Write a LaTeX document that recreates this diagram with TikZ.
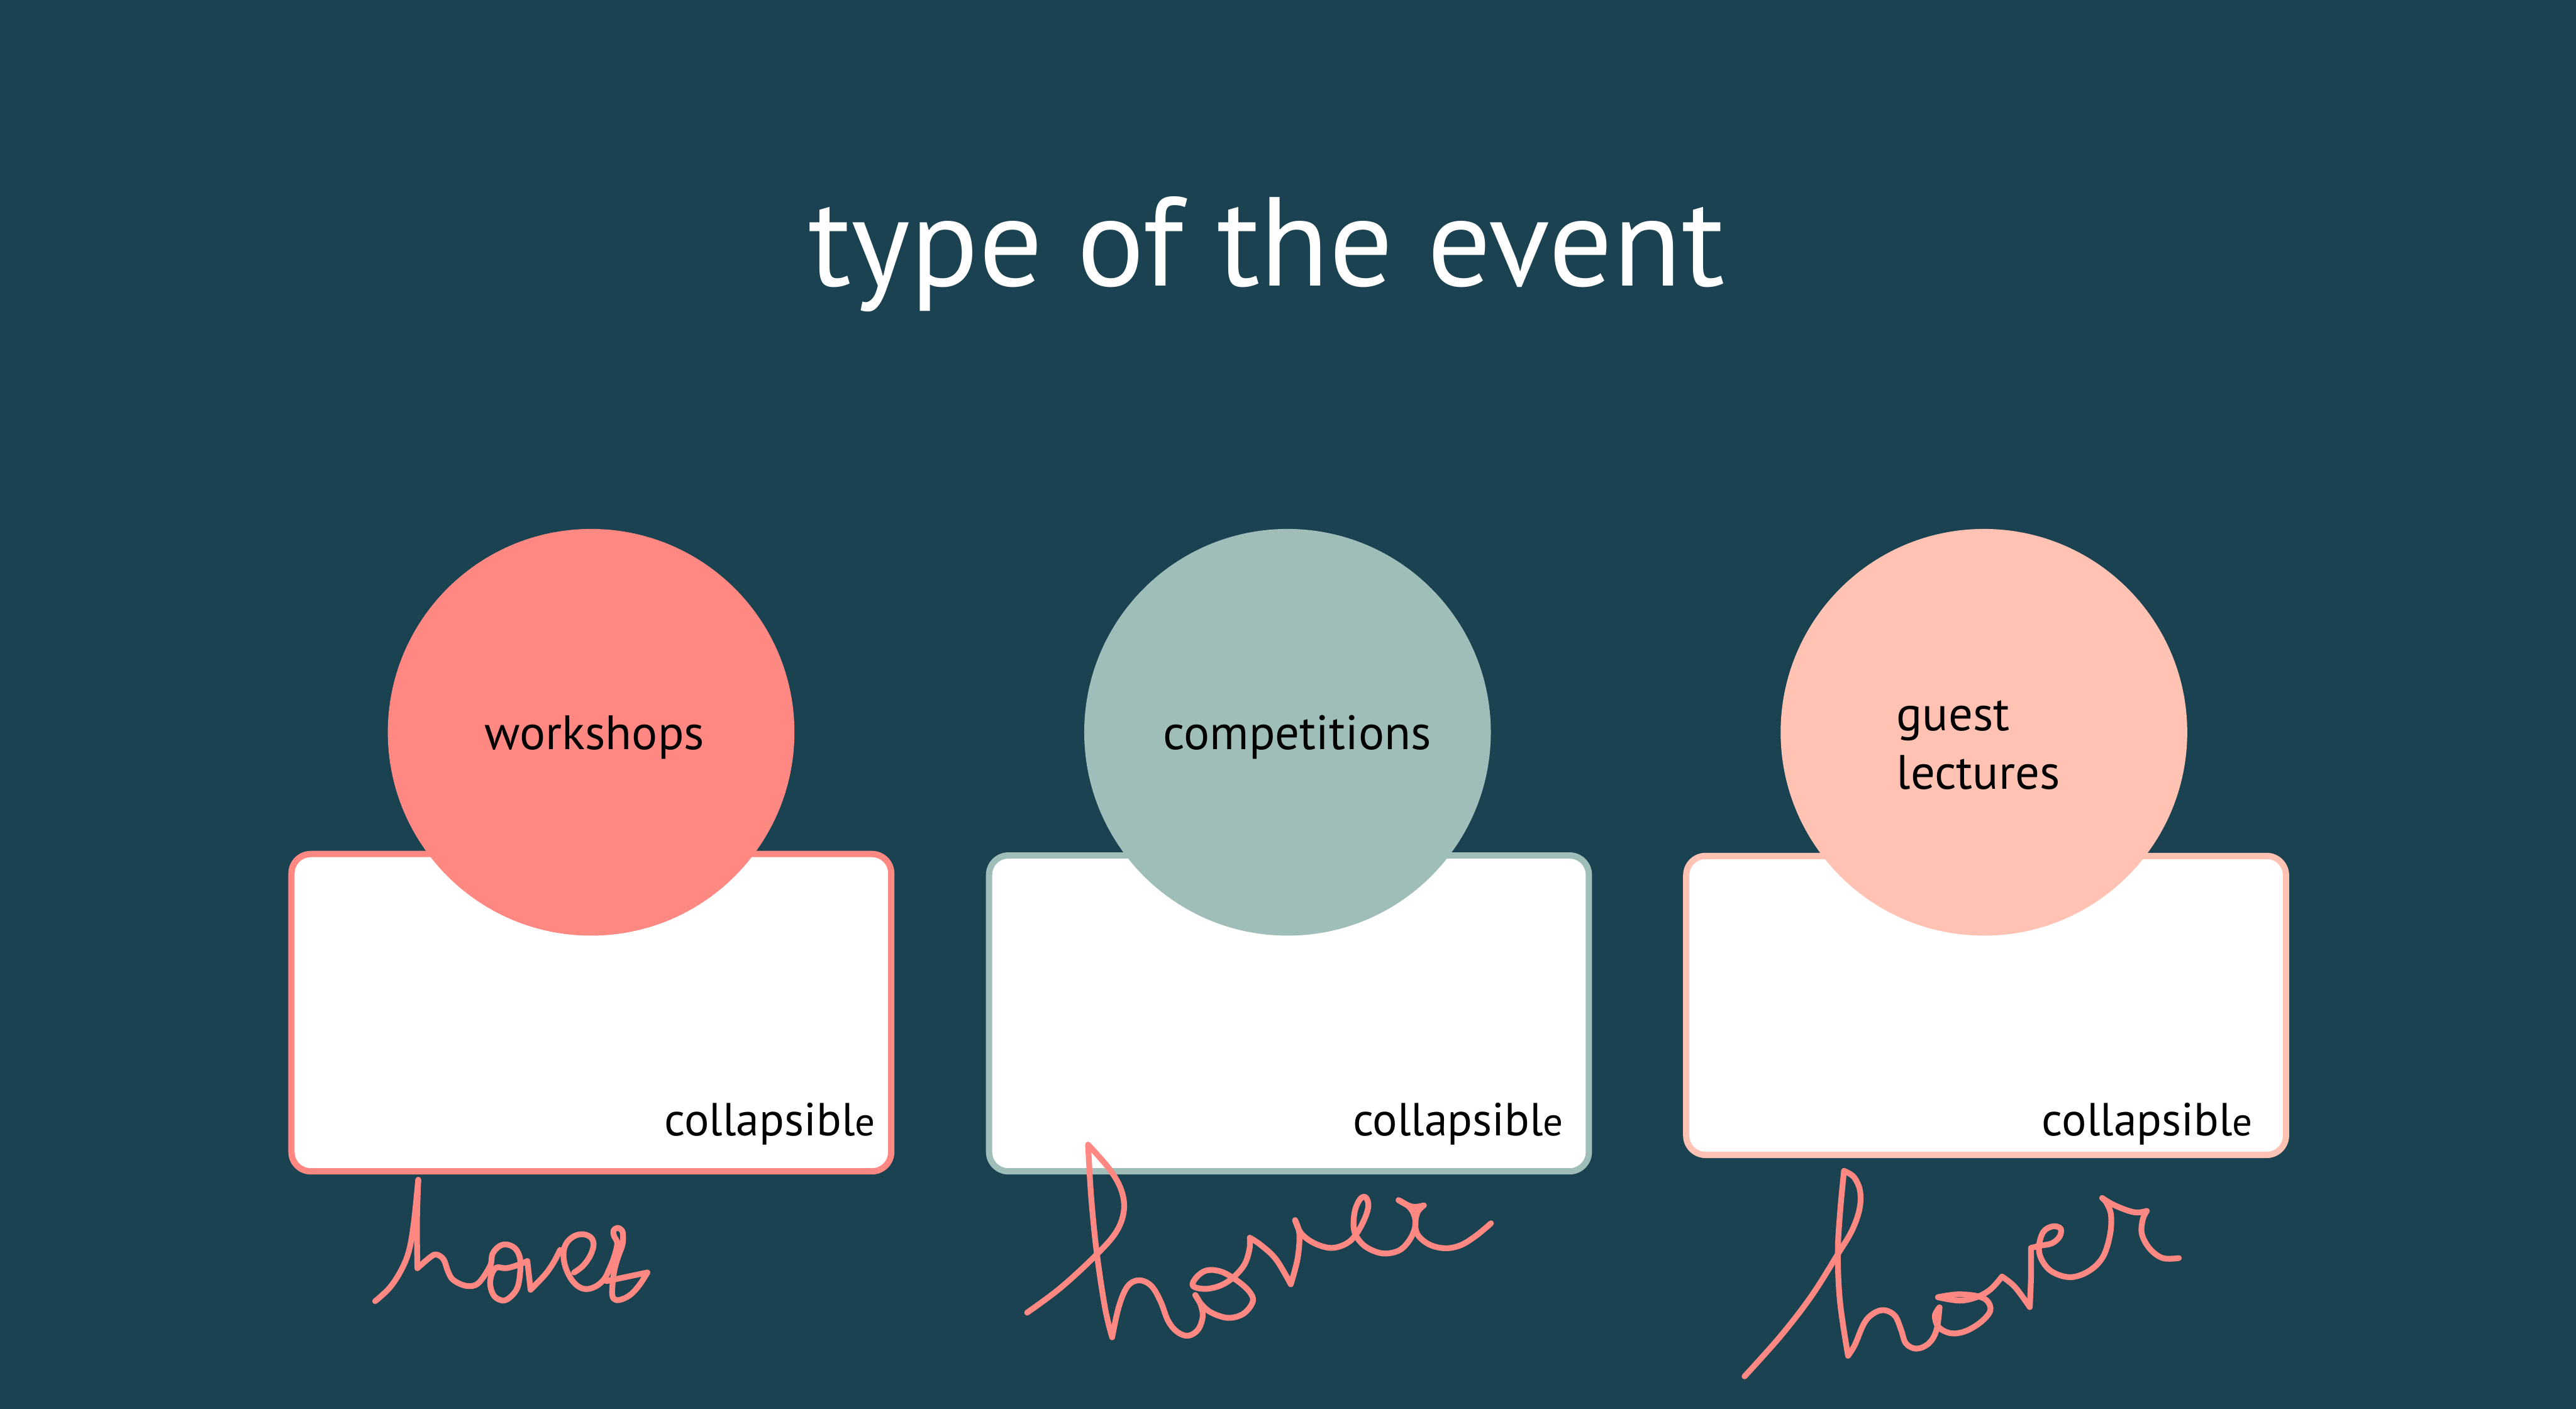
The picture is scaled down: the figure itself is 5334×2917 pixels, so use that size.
\documentclass[tikz,border=0pt]{standalone}
\usepackage{fontspec}
\setmainfont{PT Sans}
\definecolor{bg}{HTML}{1B4250}
\definecolor{salmon}{HTML}{FF8882}
\definecolor{sage}{HTML}{9FBEB9}
\definecolor{peach}{HTML}{FFC2B3}
\begin{document}
\begin{tikzpicture}[x=0.1pt,y=-0.1pt,
  bubble/.style={circle, minimum size=84.2pt, inner sep=0pt},
  card/.style={rectangle, rounded corners=4pt, fill=white, line width=1.3pt, minimum width=124.2pt, inner sep=0pt},
  lbl/.style={text=black, inner sep=0pt, font=\fontsize{10}{12}\selectfont},
  collap/.style={anchor=base east, text=black, inner sep=0pt, font=\fontsize{9.6}{12}\selectfont},
  scribble/.style={draw=salmon, line width=1.2pt, line cap=round, line join=round},
  sm/.style={smooth, tension=0.6},
]
\fill[bg] (0,0) rectangle (5334,2917);
\useasboundingbox (0,0) rectangle (5334,2917);

\node[anchor=base, text=white, inner sep=0pt, font=\fontsize{26.2}{30}\selectfont] (title) at (2623,592) {type of the event};

\node[card, draw=salmon, minimum height=65.7pt] (box1) at (1224.5,2096.5) {};
\node[card, draw=sage, minimum height=65.4pt] (box2) at (2669,2098) {};
\node[card, draw=peach, minimum height=61.9pt] (box3) at (4112.5,2081.5) {};

\node[bubble, fill=salmon] (c1) at (1224,1516) {};
\node[bubble, fill=sage] (c2) at (2666,1516) {};
\node[bubble, fill=peach] (c3) at (4108,1516) {};

\node[lbl, anchor=base] (l1) at (1231,1551) {workshops};
\node[lbl, anchor=base] (l2) at (2686,1551) {competitions};
\node[lbl, anchor=base west] (l3a) at (3925,1512) {guest};
\node[lbl, anchor=base west] (l3b) at (3925,1634) {lectures};

\node[collap] (k1) at (1814,2351) {collapsibl{\fontsize{8.2}{10}\selectfont e}};
\node[collap] (k2) at (3239,2351) {collapsibl{\fontsize{8.2}{10}\selectfont e}};
\node[collap] (k3) at (4666,2351) {collapsibl{\fontsize{8.2}{10}\selectfont e}};

% scribble 1
\begin{scope}[shift={(700,2217)}, scale=0.4464]
\draw[scribble] plot[sm] coordinates {(172,1068) (240,1005) (295,920) (330,830) (352,700) (372,505)};
\draw[scribble] plot[sm] coordinates {(372,505) (366,700) (368,915)};
\draw[scribble] plot[sm] coordinates {(368,915) (430,862) (458,852) (490,875) (510,930) (535,970) (595,997) (650,985) (705,905) (716,850) (745,815) (780,805) (820,822) (843,865) (845,930) (832,1005) (800,1048) (765,1065) (725,1045) (706,995) (712,945) (735,912) (780,915) (835,900) (878,882)};
\draw[scribble] (878,882) -- (893,1015);
\draw[scribble] plot[sm] coordinates {(893,1015) (960,945) (1000,888) (1030,830)};
\draw[scribble] plot[sm] coordinates {(1095,935) (1135,905) (1168,860) (1185,810) (1175,775) (1140,758) (1098,765) (1062,795) (1046,840) (1052,900) (1078,960) (1112,998) (1152,1012) (1198,998) (1235,965) (1258,920) (1280,865) (1295,800) (1280,765) (1278,740) (1297,728) (1318,742) (1322,775) (1318,810) (1300,860) (1285,910) (1275,970) (1272,1040) (1288,1062) (1320,1058) (1360,1035) (1400,990) (1435,935)};
\draw[scribble] (1435,935) -- (1245,975);
\end{scope}

% scribble 2
\begin{scope}[shift={(2100,1917)}, scale=0.6378]
\draw[scribble] plot[sm] coordinates {(42,1255) (150,1175) (262,1072) (330,995) (356,925) (348,858) (310,790) (240,710)};
\draw[scribble] plot[sm] coordinates {(240,710) (250,880) (268,1060) (295,1240) (318,1335)};
\draw[scribble] plot[sm] coordinates {(318,1335) (340,1235) (368,1170) (405,1150) (445,1168) (475,1218) (500,1282) (530,1318) (565,1330) (597,1310) (612,1268) (605,1228) (588,1198)};
\draw[scribble] plot[sm] coordinates {(588,1198) (608,1228) (640,1255) (695,1272) (745,1258) (775,1218) (762,1185) (722,1150) (672,1122) (625,1118) (592,1140) (580,1168) (620,1178) (670,1167) (712,1140) (748,1098) (764,1048) (765,1012)};
\draw[scribble] plot[sm] coordinates {(765,1012) (800,1035) (850,1082) (898,1163)};
\draw[scribble] plot[sm] coordinates {(898,1163) (920,1080) (926,1000) (912,955)};
\draw[scribble] plot[sm] coordinates {(912,955) (932,998) (975,1030) (1030,1045) (1080,1030) (1112,998) (1140,945) (1150,905) (1140,880) (1122,888) (1105,930) (1104,990) (1130,1032) (1170,1056) (1210,1063) (1255,1050) (1288,1012) (1303,968) (1296,932) (1278,908) (1248,890)};
\draw[scribble] plot[sm] coordinates {(1248,890) (1275,905) (1300,912) (1330,907)};
\draw[scribble] plot[sm] coordinates {(1330,907) (1310,928) (1302,968) (1312,1005) (1350,1035) (1400,1046) (1450,1036) (1500,1005) (1548,965)};
\end{scope}

% scribble 3
\begin{scope}[shift={(3560,1917)}, scale=0.6378]
\draw[scribble] plot[sm] coordinates {(82,1462) (200,1330) (300,1200) (385,1065) (430,990) (455,920) (457,860) (437,815) (405,795)};
\draw[scribble] plot[sm] coordinates {(405,795) (393,920) (385,1060) (392,1220) (418,1395)};
\draw[scribble] plot[sm] coordinates {(418,1395) (440,1360) (470,1290) (500,1258) (535,1247) (570,1265) (590,1310) (606,1355) (640,1372) (680,1355) (705,1312) (715,1238)};
\draw[scribble] plot[sm] coordinates {(715,1238) (700,1265) (712,1302) (752,1322) (800,1315) (850,1285) (880,1248) (868,1215) (830,1200) (770,1196) (710,1205)};
\draw[scribble] plot[sm] coordinates {(710,1205) (780,1216) (835,1205) (880,1180) (918,1138)};
\draw[scribble] plot[sm] coordinates {(918,1138) (960,1172) (1008,1237)};
\draw[scribble] plot[sm] coordinates {(1008,1237) (1012,1140) (1012,1045)};
\draw[scribble] plot[sm] coordinates {(1012,1045) (1040,1038) (1080,1030) (1105,1008) (1108,982) (1082,975) (1052,993) (1038,1040) (1046,1082) (1080,1122) (1140,1140) (1200,1120) (1245,1075) (1268,1005) (1272,940) (1258,900) (1243,883)};
\draw[scribble] plot[sm] coordinates {(1243,883) (1280,905) (1330,925) (1360,930) (1388,925)};
\draw[scribble] plot[sm] coordinates {(1388,925) (1375,952) (1372,1000) (1398,1048) (1440,1078) (1492,1078)};
\end{scope}
\end{tikzpicture}
\end{document}
